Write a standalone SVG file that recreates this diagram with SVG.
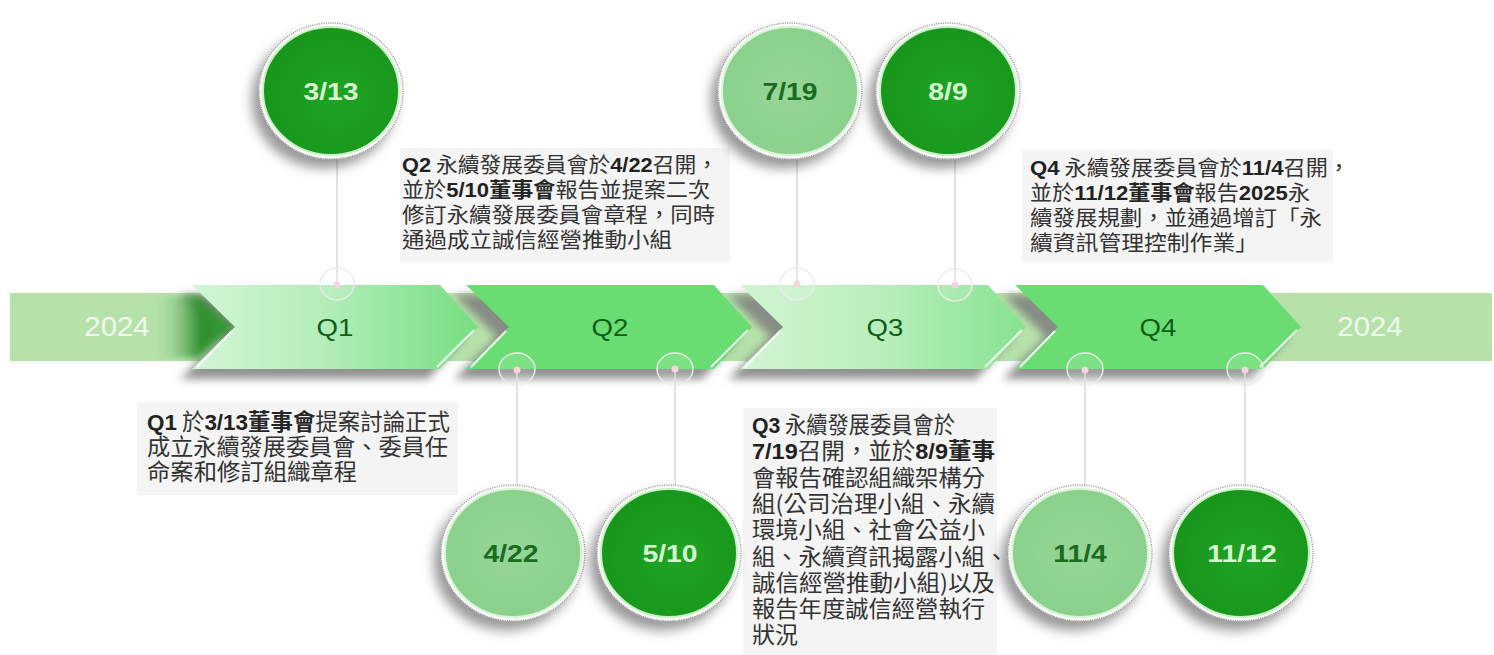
<svg xmlns="http://www.w3.org/2000/svg" width="1494" height="655" viewBox="0 0 1494 655" xml:lang="zh-Hant-TW" lang="zh-Hant-TW">
<defs>
<style>
.para{font-family:"Noto Sans CJK TC",sans-serif;fill:#333333;font-feature-settings:"locl" 1;}
.p21{font-size:21px;}
.p23{font-size:22.5px;}
.b{font-family:"Liberation Sans",Arial,"Noto Sans CJK TC",sans-serif;font-weight:700;fill:#222222;}
.bc{font-family:"Noto Sans CJK TC",sans-serif;font-weight:700;fill:#262626;}
.box{fill:#f4f4f4;}
.ql{font-family:"Liberation Sans",Arial,sans-serif;font-size:24px;fill:#0e5e18;text-anchor:middle;}
.yr{font-family:"Liberation Sans",Arial,sans-serif;font-size:28px;fill:#f1faee;text-anchor:middle;}
.ct{font-family:"Liberation Sans",Arial,sans-serif;font-weight:700;font-size:24px;text-anchor:middle;}
.ctd{fill:#d6f6cf;}
.ctl{fill:#1b6b21;}
.ring{fill:#fafafa;stroke:#8f8f8f;stroke-width:1.3;stroke-dasharray:1 1.3;}
.dark{fill:url(#gDark);stroke:#c8f2c4;stroke-width:2;}
.pale{fill:url(#gPale);stroke:#d6f5d3;stroke-width:2;}
.shad{fill:#7e7e7e;opacity:0.85;}
.hl{stroke:#ffffff;stroke-width:2;opacity:0.9;fill:none;}
.cline{stroke:#dadada;stroke-width:1.5;fill:none;}
.anc{fill:#ffffff;fill-opacity:0.12;stroke:#ebebeb;stroke-width:1.5;}
.dot{fill:#f5d5dc;}
</style>
<filter id="cs" x="-40%" y="-40%" width="180%" height="180%"><feDropShadow dx="-7" dy="9" stdDeviation="6" flood-color="#000" flood-opacity="0.4"/></filter>
<filter id="sb" x="-20%" y="-50%" width="140%" height="200%"><feGaussianBlur stdDeviation="4"/></filter>
<filter id="tb" x="-30%" y="-30%" width="160%" height="160%"><feGaussianBlur stdDeviation="3"/></filter>
<linearGradient id="gQ1" x1="0" x2="1" y1="0" y2="0"><stop offset="0" stop-color="#d3f5d5"/><stop offset="0.45" stop-color="#b4edbb"/><stop offset="1" stop-color="#76de81"/></linearGradient>
<linearGradient id="gQ3" x1="0" x2="1" y1="0" y2="0"><stop offset="0" stop-color="#d2f4d3"/><stop offset="0.5" stop-color="#b8eebc"/><stop offset="1" stop-color="#85e38e"/></linearGradient>
<linearGradient id="gTip" x1="0" x2="1" y1="0" y2="0"><stop offset="0" stop-color="#b6e2aa" stop-opacity="0"/><stop offset="0.6" stop-color="#2f8f30"/><stop offset="1" stop-color="#3a9a3a"/></linearGradient>
<radialGradient id="gDark" cx="0.55" cy="0.55" r="0.6"><stop offset="0" stop-color="#1fa324"/><stop offset="1" stop-color="#17951b"/></radialGradient>
<radialGradient id="gPale" cx="0.5" cy="0.5" r="0.6"><stop offset="0" stop-color="#96d698"/><stop offset="1" stop-color="#88cf8b"/></radialGradient>
<polygon id="chev" points="0,285 248,285 286,327 248,369 0,369 43,327"/>
</defs>

<g id="band">
<rect x="10" y="293" width="1482" height="68" fill="#b6e2aa"/>
<text class="yr" transform="translate(117,336) scale(1.05,1)">2024</text>
<text class="yr" transform="translate(1370,336) scale(1.05,1)">2024</text>
</g>

<g id="shadows" filter="url(#sb)">
<use href="#chev" x="180" y="10" class="shad"/>
<use href="#chev" x="454" y="10" class="shad"/>
<use href="#chev" x="728" y="10" class="shad"/>
<use href="#chev" x="1003" y="10" class="shad"/>
</g>
<polygon points="150,296 198,296 234,327 198,358 150,358" fill="url(#gTip)" filter="url(#tb)"/>

<g id="Q1">
<use href="#chev" x="192" fill="url(#gQ1)"/>
<path class="hl" d="M232,331 L197,367 M437,367 L474,330"/>
<text class="ql" transform="translate(335,336) scale(1.15,1)">Q1</text>
</g>
<g id="Q2">
<use href="#chev" x="466" fill="#69dd71"/>
<path class="hl" d="M506,331 L471,367 M711,367 L748,330"/>
<text class="ql" transform="translate(610,336) scale(1.15,1)">Q2</text>
</g>
<g id="Q3">
<use href="#chev" x="740" fill="url(#gQ3)"/>
<path class="hl" d="M780,331 L745,367 M985,367 L1022,330"/>
<text class="ql" transform="translate(885,336) scale(1.15,1)">Q3</text>
</g>
<g id="Q4">
<use href="#chev" x="1015" fill="#69dd71"/>
<path class="hl" d="M1055,331 L1020,367 M1260,367 L1297,330"/>
<text class="ql" transform="translate(1158,336) scale(1.15,1)">Q4</text>
</g>

<g id="note-Q1" lang="zh-TW">
<rect class="box" x="137" y="402" width="321" height="93"/>
<text class="para p23" x="147" y="430" textLength="303" lengthAdjust="spacingAndGlyphs"><tspan class="b">Q1</tspan> 於<tspan class="b">3/13</tspan><tspan class="bc">董事會</tspan>提案討論正式</text>
<text class="para p23" x="147" y="455" textLength="301" lengthAdjust="spacingAndGlyphs">成立永續發展委員會、委員任</text>
<text class="para p23" x="147" y="480" textLength="210" lengthAdjust="spacingAndGlyphs">命案和修訂組織章程</text>
</g>

<g id="note-Q2" lang="zh-TW">
<rect class="box" x="400" y="148" width="330" height="114"/>
<text class="para p21" x="402" y="172" textLength="316" lengthAdjust="spacingAndGlyphs"><tspan class="b">Q2</tspan> 永續發展委員會於<tspan class="b">4/22</tspan>召開，</text>
<text class="para p21" x="402" y="197" textLength="308" lengthAdjust="spacingAndGlyphs">並於<tspan class="b">5/10</tspan><tspan class="bc">董事會</tspan>報告並提案二次</text>
<text class="para p21" x="402" y="222" textLength="313" lengthAdjust="spacingAndGlyphs">修訂永續發展委員會章程，同時</text>
<text class="para p21" x="402" y="247" textLength="270" lengthAdjust="spacingAndGlyphs">通過成立誠信經營推動小組</text>
</g>

<g id="note-Q3" lang="zh-TW">
<rect class="box" x="743" y="408" width="254" height="247"/>
<text class="para p23" x="752" y="433" textLength="203" lengthAdjust="spacingAndGlyphs"><tspan class="b">Q3</tspan> 永續發展委員會於</text>
<text class="para p23" x="752" y="459" textLength="243" lengthAdjust="spacingAndGlyphs"><tspan class="b">7/19</tspan>召開，並於<tspan class="b">8/9</tspan><tspan class="bc">董事</tspan></text>
<text class="para p23" x="752" y="486" textLength="233" lengthAdjust="spacingAndGlyphs">會報告確認組織架構分</text>
<text class="para p23" x="752" y="512" textLength="243" lengthAdjust="spacingAndGlyphs">組(公司治理小組、永續</text>
<text class="para p23" x="752" y="538" textLength="233" lengthAdjust="spacingAndGlyphs">環境小組、社會公益小</text>
<text class="para p23" x="752" y="565" textLength="256" lengthAdjust="spacingAndGlyphs">組、永續資訊揭露小組、</text>
<text class="para p23" x="752" y="591" textLength="243" lengthAdjust="spacingAndGlyphs">誠信經營推動小組)以及</text>
<text class="para p23" x="752" y="617" textLength="233" lengthAdjust="spacingAndGlyphs">報告年度誠信經營執行</text>
<text class="para p23" x="752" y="643" textLength="46" lengthAdjust="spacingAndGlyphs">狀況</text>
</g>

<g id="note-Q4" lang="zh-TW">
<rect class="box" x="1022" y="150" width="311" height="112"/>
<text class="para p21" x="1030" y="175" textLength="320" lengthAdjust="spacingAndGlyphs"><tspan class="b">Q4</tspan> 永續發展委員會於<tspan class="b">11/4</tspan>召開，</text>
<text class="para p21" x="1030" y="200" textLength="280" lengthAdjust="spacingAndGlyphs">並於<tspan class="b">11/12</tspan><tspan class="bc">董事會</tspan>報告<tspan class="b">2025</tspan>永</text>
<text class="para p21" x="1030" y="225" textLength="292" lengthAdjust="spacingAndGlyphs">續發展規劃，並通過增訂「永</text>
<text class="para p21" x="1030" y="250" textLength="228" lengthAdjust="spacingAndGlyphs">續資訊管理控制作業」</text>
</g>

<g id="connectors">
<line class="cline" x1="337" y1="158" x2="337" y2="285"/>
<line class="cline" x1="797" y1="158" x2="797" y2="284"/>
<line class="cline" x1="955" y1="158" x2="955" y2="285"/>
<line class="cline" x1="517" y1="370" x2="517" y2="488"/>
<line class="cline" x1="675" y1="369" x2="675" y2="488"/>
<line class="cline" x1="1085" y1="370" x2="1085" y2="488"/>
<line class="cline" x1="1245" y1="370" x2="1245" y2="488"/>
<ellipse class="anc" cx="337" cy="284" rx="17" ry="16"/><circle class="dot" cx="337" cy="285" r="3.5"/>
<ellipse class="anc" cx="797" cy="284" rx="17" ry="16"/><circle class="dot" cx="797" cy="284" r="3.5"/>
<ellipse class="anc" cx="955" cy="285" rx="17" ry="16"/><circle class="dot" cx="955" cy="285" r="3.5"/>
<ellipse class="anc" cx="517" cy="369" rx="18" ry="16"/><circle class="dot" cx="517" cy="370" r="3.5"/>
<ellipse class="anc" cx="675" cy="369" rx="18" ry="16"/><circle class="dot" cx="675" cy="369" r="3.5"/>
<ellipse class="anc" cx="1085" cy="369" rx="18" ry="16"/><circle class="dot" cx="1085" cy="370" r="3.5"/>
<ellipse class="anc" cx="1245" cy="369" rx="18" ry="16"/><circle class="dot" cx="1245" cy="370" r="3.5"/>
</g>

<g id="d0313">
<ellipse class="ring" cx="331" cy="91" rx="72" ry="68" filter="url(#cs)"/>
<ellipse class="dark" cx="331" cy="91" rx="68" ry="64"/>
<text class="ct ctd" transform="translate(331,100) scale(1.18,1)">3/13</text>
</g>
<g id="d0719">
<ellipse class="ring" cx="790" cy="91" rx="72" ry="68" filter="url(#cs)"/>
<ellipse class="pale" cx="790" cy="91" rx="68" ry="64"/>
<text class="ct ctl" transform="translate(790,100) scale(1.18,1)">7/19</text>
</g>
<g id="d0809">
<ellipse class="ring" cx="948" cy="91" rx="72" ry="68" filter="url(#cs)"/>
<ellipse class="dark" cx="948" cy="91" rx="68" ry="64"/>
<text class="ct ctd" transform="translate(948,100) scale(1.18,1)">8/9</text>
</g>
<g id="d0422">
<ellipse class="ring" cx="513" cy="553" rx="72" ry="68" filter="url(#cs)"/>
<ellipse class="pale" cx="513" cy="553" rx="68" ry="64"/>
<text class="ct ctl" transform="translate(511,562) scale(1.18,1)">4/22</text>
</g>
<g id="d0510">
<ellipse class="ring" cx="669" cy="553" rx="72" ry="68" filter="url(#cs)"/>
<ellipse class="dark" cx="669" cy="553" rx="68" ry="64"/>
<text class="ct ctd" transform="translate(670,562) scale(1.18,1)">5/10</text>
</g>
<g id="d1104">
<ellipse class="ring" cx="1080" cy="553" rx="72" ry="68" filter="url(#cs)"/>
<ellipse class="pale" cx="1080" cy="553" rx="68" ry="64"/>
<text class="ct ctl" transform="translate(1080,562) scale(1.18,1)">11/4</text>
</g>
<g id="d1112">
<ellipse class="ring" cx="1241" cy="553" rx="72" ry="68" filter="url(#cs)"/>
<ellipse class="dark" cx="1241" cy="553" rx="68" ry="64"/>
<text class="ct ctd" transform="translate(1242,562) scale(1.18,1)">11/12</text>
</g>
</svg>
